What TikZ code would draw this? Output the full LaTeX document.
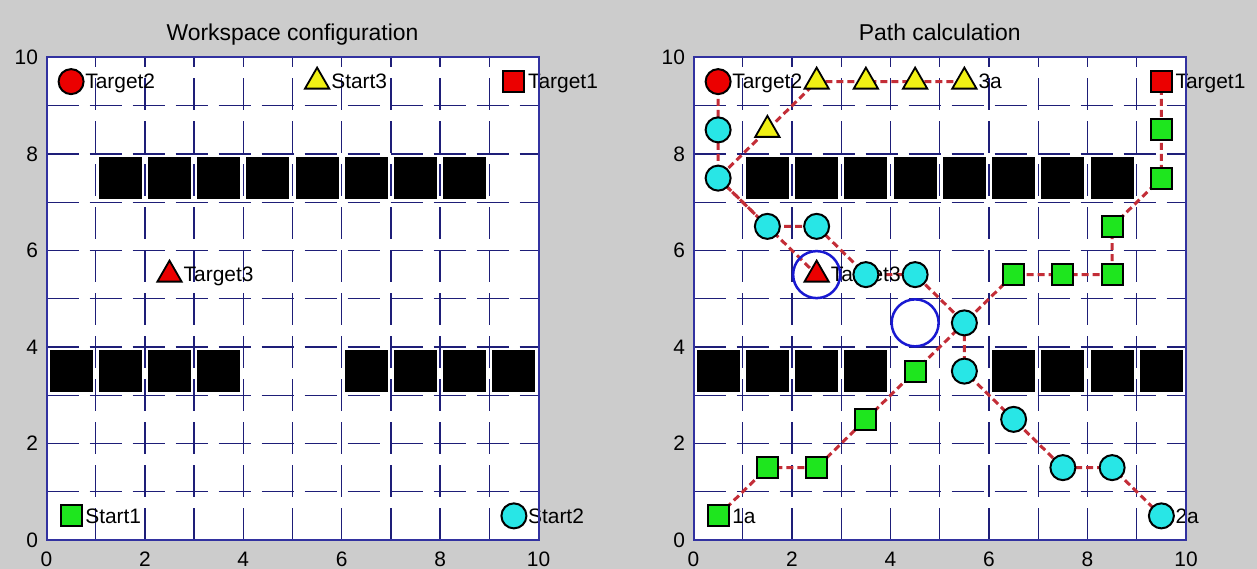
\documentclass[tikz,border=0pt]{standalone}
\usepackage{fontspec}
\setmainfont{Liberation Sans}
\usetikzlibrary{positioning, shapes.geometric}

\definecolor{figgray}{RGB}{204,204,204}
\definecolor{axblue}{RGB}{50,50,160}
\definecolor{gridblue}{RGB}{30,30,120}
\definecolor{mred}{RGB}{235,0,0}
\definecolor{mgreen}{RGB}{30,230,30}
\definecolor{mcyan}{RGB}{40,230,230}
\definecolor{myellow}{RGB}{240,240,20}
\definecolor{routered}{RGB}{195,45,55}
\definecolor{ringblue}{RGB}{25,25,210}

\pgfdeclarelayer{back}
\pgfdeclarelayer{paths}
\pgfdeclarelayer{labels}
\pgfsetlayers{back,paths,labels,main}

\begin{document}
\begin{tikzpicture}[
        x=1bp, y=1bp,
        axbox/.style={draw=axblue, line width=2bp},
        gridline/.style={draw=gridblue, line width=1.3bp, dash pattern=on 32bp off 11bp},
        obst/.style={rectangle, fill=black, minimum width=43bp, minimum height=42bp, inner sep=0pt},
        mcirc/.style={circle, draw=black, line width=2bp, minimum size=25bp, inner sep=0pt},
        msq/.style={rectangle, draw=black, line width=2bp, minimum size=21bp, inner sep=0pt},
        mtri/.style={regular polygon, regular polygon sides=3, draw=black, line width=1.8bp, minimum size=28bp, inner sep=0pt},
        ring/.style={circle, draw=ringblue, line width=2.5bp, minimum size=47bp, inner sep=0pt},
        route/.style={draw=routered, line width=3bp, dash pattern=on 7bp off 4bp},
        lbl/.style={font=\fontsize{21}{25}\selectfont, inner sep=0pt, text depth=0pt},
        tick/.style={font=\fontsize{21}{25}\selectfont, inner sep=0pt, text depth=0pt},
        ttl/.style={font=\fontsize{23}{27}\selectfont, inner sep=0pt}
    ]
    \begin{pgfonlayer}{back}
        \fill[figgray] (0,0) rectangle (1257,569);
    \end{pgfonlayer}
    \useasboundingbox (0,0) rectangle (1257,569);

    % workspace configuration
    \begin{scope}[shift={(46.5bp,29bp)}, x=49.2bp, y=48.25bp]
        \begin{pgfonlayer}{back}
            \fill[white] (0,0) rectangle (10,10);
            \foreach \k in {1,...,9} {
                \draw[gridline] (\k,0) -- (\k,10);
                \draw[gridline] (0,\k) -- (10,\k);
            }
            \foreach \k in {1,...,8}
                \node[obst] (wu\k) at (\k+0.5,7.5) {};
            \foreach \k in {0,1,2,3,6,7,8,9}
                \node[obst] (wl\k) at (\k+0.5,3.5) {};
        \end{pgfonlayer}

        \node[mcirc, fill=mred] (tgt2) at (0.5,9.5) {};
        \node[mtri, fill=myellow] (st3) at (5.5,9.5) {};
        \node[msq, fill=mred] (tgt1) at (9.5,9.5) {};
        \node[mtri, fill=mred] (tgt3) at (2.5,5.5) {};
        \node[msq, fill=mgreen] (st1) at (0.5,0.5) {};
        \node[mcirc, fill=mcyan] (st2) at (9.5,0.5) {};

        \node[lbl, right=14bp of tgt2.center] (tgt2l) {Target2};
        \node[lbl, right=14bp of st3.center] (st3l) {Start3};
        \node[lbl, right=14bp of tgt1.center] (tgt1l) {Target1};
        \node[lbl, right=14bp of tgt3.center] (tgt3l) {Target3};
        \node[lbl, right=14bp of st1.center] (st1l) {Start1};
        \node[lbl, right=14bp of st2.center] (st2l) {Start2};

        \draw[axbox] (0,0) rectangle (10,10);
        \foreach \v in {0,2,...,10} {
            \node[tick, anchor=east] (aly\v) at (-0.17,\v) {\v};
            \node[tick, anchor=north] (alx\v) at (\v,-0.25) {\v};
        }
        \node[ttl, anchor=base, yshift=17bp] (ttla) at (5,10) {Workspace configuration};
    \end{scope}

    % path calculation
    \begin{scope}[shift={(693.5bp,29bp)}, x=49.25bp, y=48.25bp]
        \begin{pgfonlayer}{back}
            \fill[white] (0,0) rectangle (10,10);
            \foreach \k in {1,...,9} {
                \draw[gridline] (\k,0) -- (\k,10);
                \draw[gridline] (0,\k) -- (10,\k);
            }
            \foreach \k in {1,...,8}
                \node[obst] (ou\k) at (\k+0.5,7.5) {};
            \foreach \k in {0,1,2,3,6,7,8,9}
                \node[obst] (ol\k) at (\k+0.5,3.5) {};
        \end{pgfonlayer}

        \node[mcirc, fill=mred] (T2) at (0.5,9.5) {};
        \node[msq, fill=mred] (T1) at (9.5,9.5) {};
        \node[mtri, fill=mred] (T3) at (2.5,5.5) {};
        \node[ring] (rg1) at (2.5,5.5) {};
        \node[ring] (rg2) at (4.5,4.5) {};

        \foreach \n/\px/\py in {1/0.5/0.5, 2/1.5/1.5, 3/2.5/1.5, 4/3.5/2.5, 5/4.5/3.5, 6/6.5/5.5,
                7/7.5/5.5, 8/8.5/5.5, 9/8.5/6.5, 10/9.5/7.5, 11/9.5/8.5}
            \node[msq, fill=mgreen] (g\n) at (\px,\py) {};
        \foreach \n/\px/\py in {1/9.5/0.5, 2/8.5/1.5, 3/7.5/1.5, 4/6.5/2.5, 5/5.5/3.5, 6/5.5/4.5,
                7/4.5/5.5, 8/3.5/5.5, 9/2.5/6.5, 10/1.5/6.5, 11/0.5/7.5, 12/0.5/8.5}
            \node[mcirc, fill=mcyan] (c\n) at (\px,\py) {};
        \foreach \n/\px/\py in {1/5.5/9.5, 2/4.5/9.5, 3/3.5/9.5, 4/2.5/9.5, 5/1.5/8.5}
            \node[mtri, fill=myellow] (y\n) at (\px,\py) {};

        \begin{pgfonlayer}{labels}
            \node[lbl, right=14bp of T2.center] (T2l) {Target2};
            \node[lbl, right=14bp of T1.center] (T1l) {Target1};
            \node[lbl, right=14bp of T3.center] (T3l) {Target3};
            \node[lbl, right=14bp of y1.center] (y1l) {3a};
            \node[lbl, right=14bp of g1.center] (g1l) {1a};
            \node[lbl, right=14bp of c1.center] (c1l) {2a};
        \end{pgfonlayer}

        \begin{pgfonlayer}{paths}
            \draw[route] (g1.center) -- (g2.center) -- (g3.center) -- (g4.center) -- (g5.center)
                -- (c6.center) -- (g6.center) -- (g7.center) -- (g8.center) -- (g9.center)
                -- (g10.center) -- (g11.center) -- (T1.center);
            \draw[route] (c1.center) -- (c2.center) -- (c3.center) -- (c4.center) -- (c5.center)
                -- (c6.center) -- (c7.center) -- (c8.center) -- (c9.center) -- (c10.center)
                -- (c11.center) -- (c12.center) -- (T2.center);
            \draw[route] (y1.center) -- (y2.center) -- (y3.center) -- (y4.center) -- (y5.center)
                -- (c11.center) -- (c10.center) -- (T3.center);
        \end{pgfonlayer}

        \draw[axbox] (0,0) rectangle (10,10);
        \foreach \v in {0,2,...,10} {
            \node[tick, anchor=east] (bly\v) at (-0.17,\v) {\v};
            \node[tick, anchor=north] (blx\v) at (\v,-0.25) {\v};
        }
        \node[ttl, anchor=base, yshift=17bp] (ttlb) at (5,10) {Path calculation};
    \end{scope}
\end{tikzpicture}
\end{document}
